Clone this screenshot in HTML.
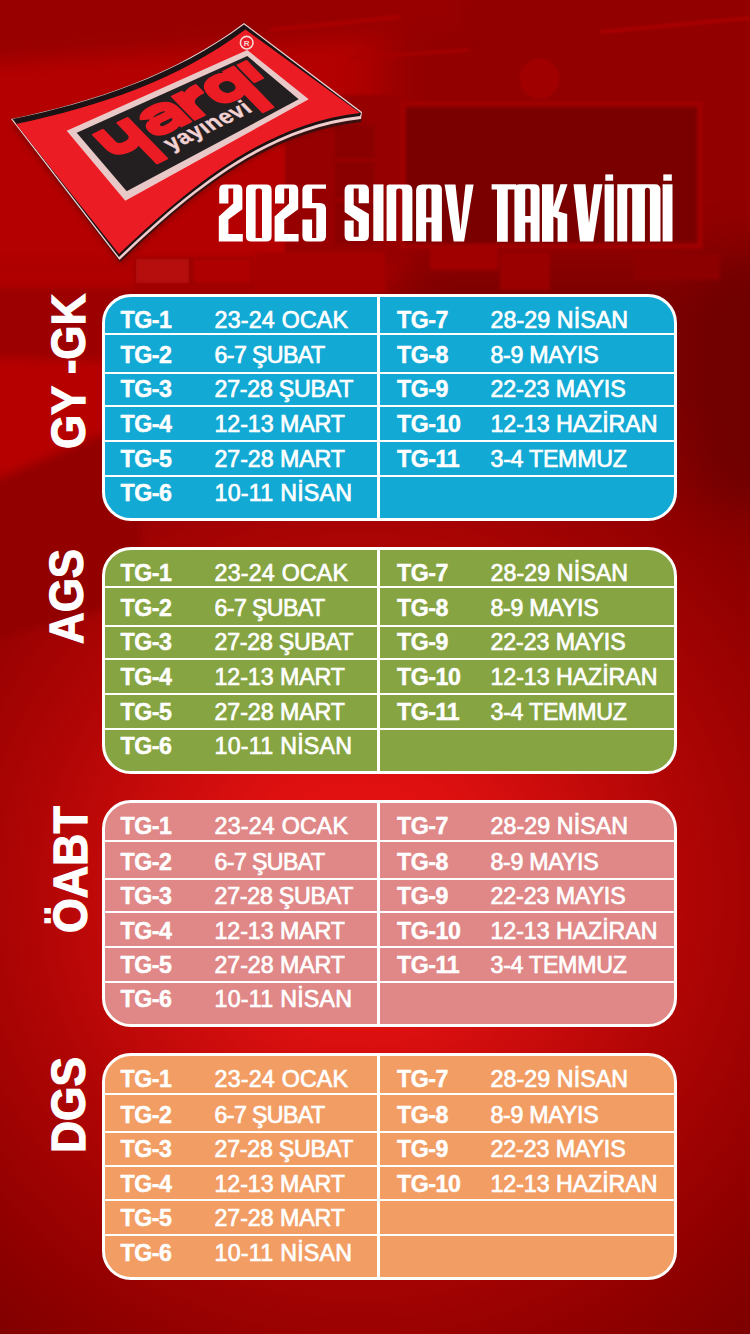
<!DOCTYPE html>
<html><head><meta charset="utf-8"><style>
html,body{margin:0;padding:0}
body{width:750px;height:1334px;overflow:hidden;position:relative;background:#a00000;font-family:"Liberation Sans",sans-serif;color:#fff}
svg.abs{position:absolute;left:0;top:0}
.tb{position:absolute;left:102px;width:575px;height:227px;box-sizing:border-box;border:3px solid #fff;border-radius:29px;overflow:hidden}
.hs{position:absolute;left:0;right:0;height:2px;background:#fff}
.vs{position:absolute;left:272px;top:0;bottom:0;width:3px;background:#fff}
.tg,.dt{position:absolute;line-height:0;white-space:nowrap;font-size:23.2px}
.tg{font-weight:bold;letter-spacing:-0.45px;-webkit-text-stroke:0.45px #fff}
.dt{font-weight:normal;letter-spacing:0.3px;-webkit-text-stroke:0.7px #fff}
.tg.l{left:15.5px}.dt.l{left:109.5px}
.tg.r{left:292px}.dt.r{left:385.5px}
.lb{position:absolute;width:0;height:0}
.lb span{position:absolute;left:0;top:0;line-height:0;white-space:nowrap;font-size:49px;font-weight:bold;transform-origin:0 0;transform:rotate(-90deg) scaleX(0.895);-webkit-text-stroke:1.2px #fff}

</style></head><body>
<svg class="abs" width="750" height="1334" viewBox="0 0 750 1334">
<defs>
<radialGradient id="rg1" cx="360" cy="895" r="600" gradientUnits="userSpaceOnUse">
<stop offset="0" stop-color="#ee1414"/>
<stop offset="0.22" stop-color="#de1010"/>
<stop offset="0.55" stop-color="#b00505"/>
<stop offset="0.8" stop-color="#920000"/>
<stop offset="1" stop-color="#7a0000"/>
</radialGradient>
<linearGradient id="rgrad" x1="0" y1="0" x2="1" y2="0">
<stop offset="0" stop-color="#700000" stop-opacity="0"/>
<stop offset="1" stop-color="#600000" stop-opacity="0.6"/>
</linearGradient>
<filter id="b3" filterUnits="userSpaceOnUse" x="-100" y="-100" width="950" height="1534"><feGaussianBlur stdDeviation="1.5"/></filter>
<filter id="b6" filterUnits="userSpaceOnUse" x="-100" y="-100" width="950" height="1534"><feGaussianBlur stdDeviation="5"/></filter>
<filter id="b10" filterUnits="userSpaceOnUse" x="-100" y="-100" width="950" height="1534"><feGaussianBlur stdDeviation="10"/></filter>
<filter id="b25" filterUnits="userSpaceOnUse" x="-100" y="-100" width="950" height="1534"><feGaussianBlur stdDeviation="25"/></filter>
</defs>
<rect width="750" height="1334" fill="url(#rg1)"/>
<g filter="url(#b25)">
<rect x="-60" y="-60" width="460" height="360" fill="#b40202"/>
<rect x="380" y="-60" width="440" height="330" fill="#920000"/>
<rect x="700" y="250" width="120" height="250" fill="#700000"/>
<rect x="-60" y="400" width="120" height="150" fill="#900000"/>
</g>
<g filter="url(#b10)">
<polygon points="-60,-60 460,-60 460,30 0,62 -60,62" fill="#980000"/>
</g>
<g filter="url(#b3)">
<line x1="270" y1="30" x2="400" y2="17" stroke="#b00404" stroke-width="3"/>
<rect x="285" y="95" width="115" height="170" fill="#960000"/>
<rect x="335" y="125" width="40" height="120" fill="#8a0000"/>
<line x1="335" y1="160" x2="375" y2="160" stroke="#a00404" stroke-width="2"/>
<line x1="335" y1="200" x2="375" y2="200" stroke="#a00404" stroke-width="2"/>
<rect x="403" y="104" width="297" height="142" fill="#7a0000" stroke="#a00404" stroke-width="5"/>
<circle cx="541" cy="80" r="20" fill="#880000" opacity="0.6"/><circle cx="539.5" cy="79" r="18.5" fill="#a00303" stroke="#a80606" stroke-width="2"/>

<line x1="600" y1="32" x2="750" y2="18" stroke="#b00606" stroke-width="3"/>
<line x1="350" y1="58" x2="470" y2="50" stroke="#a80404" stroke-width="3"/>
<rect x="-10" y="270" width="145" height="20" fill="#b00606"/>
<rect x="135" y="258" width="55" height="26" fill="#b60808" stroke="#980202" stroke-width="2"/>
<rect x="192" y="258" width="60" height="26" fill="#ae0606" stroke="#980202" stroke-width="2"/>
<rect x="255" y="252" width="130" height="40" fill="#a40505"/>
<rect x="430" y="246" width="68" height="24" fill="#a00606"/>
<rect x="500" y="252" width="50" height="38" fill="#9a0404"/>
<rect x="634" y="254" width="86" height="26" fill="#8c0303"/>

</g>
<g filter="url(#b6)"><polygon points="-10,288 140,288 140,362 -10,358" fill="#9c0202"/>
<polygon points="-10,358 140,362 140,418 -10,482" fill="#b60505"/><polygon points="-10,482 140,418 140,600 -10,640" fill="#920000"/></g>
</svg>

<svg class="abs" width="750" height="1334" viewBox="0 0 750 1334">
<defs>
<filter id="lsh" x="-20%" y="-20%" width="140%" height="140%"><feGaussianBlur stdDeviation="3"/></filter>
</defs>
<path d="M12,124 C95,107 176,80 246,28 L364,120 C266,131 190,196 121,264 Z" fill="#4a0000" opacity="0.5" filter="url(#lsh)"/>
<path d="M11,119 C94,101.8 175.5,74.6 244,23 L362,113 L361,122 C262.7,133.1 186.9,198.4 120,262 Z" fill="#3a1010"/>
<path d="M11,119 C94,101.8 175.5,74.6 244,23 L362,112 L361,119 C262.7,130.1 186.9,195.4 119.5,260 Z" fill="#f0cccc"/>
<path d="M12.5,119 C95,102 176,75 244,24.5 L361,113 L360,116 C262.7,127.1 186.9,192.4 119,257 Z" fill="#1c1214"/>
<path d="M16,124 C98,107 179,79.5 245.5,29.5 L360,113 C262.7,124.1 186.9,189.4 119,254 Z" fill="#ec1c24"/>
<polygon points="66.7,130.7 247.3,50 308.7,99.3 125.3,200.7" fill="#e9c9c8"/>
<polygon points="76.7,132.7 247.3,56 298.7,99.3 126.7,191.3" fill="#231f20"/>
<circle cx="246.7" cy="42.7" r="6.3" fill="none" stroke="#f4d8d8" stroke-width="1.6"/>
<text x="246.7" y="45.6" font-family="Liberation Sans" font-size="8" font-weight="bold" fill="#f4d8d8" text-anchor="middle">R</text>
<g transform="matrix(0.9079,-0.4396,0.7277,0.7487,73.14,133.45)" fill="#ec1c24" stroke="#ec1c24" stroke-width="2.2" stroke-linejoin="round">
  <path d="M14,10 H25 V26 Q25,31 32,31 Q41,31 41,25 V10 H52 V64 H41 V38 Q37,41 31,41 Q14,41 14,28 Z"/>
  <path d="M61,17 Q65,10 79,10 Q97,10 97,23 V41 H86 V38 Q82,41 73,41 Q59,41 59,31 Q59,22 73,22 H86 V21 Q86,18 79,18 Q72,18 70,21 Z M74,28 Q70,28 70,31.5 Q70,34 74,34 Q86,34 86,30 V28 Z" fill-rule="evenodd"/>
  <path d="M101,10 H112 V14 Q116,10 127,10 V20 Q112,20 112,28 V41 H101 Z"/>
  <path d="M157.5,10 H169 V64 H157.5 V38 Q154,41 147,41 Q130,41 130,25.5 Q130,10 148,10 Q154,10 157.5,13 Z M149,18 Q141,18 141,25.5 Q141,33 149,33 Q157.5,33 157.5,25.5 Q157.5,18 149,18 Z" fill-rule="evenodd"/>
  <rect x="173" y="10.5" width="9.5" height="22.5"/>
</g>
<g transform="matrix(0.9079,-0.4396,0.7277,0.7487,73.14,133.45)">
  <text x="61" y="59" font-family="Liberation Sans" font-size="22" font-weight="bold" fill="#f2d2d2" stroke="#f2d2d2" stroke-width="0.4" letter-spacing="0.5">yayınevi</text>
</g>
</svg>

<svg class="abs" width="750" height="1334" viewBox="0 0 750 1334">
<g fill="#fff" fill-rule="evenodd">
<!-- 2 -->
<path d="M219.2,203.6 V190 Q219.2,184.6 224.6,184.6 H237 Q242.4,184.6 242.4,190 V209.2 L228.4,219.6 V234 H242.8 V241.6 H218.8 V216.4 L233.2,203.6 V188.4 H228.4 V203.6 Z"/>
<!-- 0 -->
<path d="M246,190 Q246,184.6 251.4,184.6 H266.2 Q271.6,184.6 271.6,190 V236.2 Q271.6,241.6 266.2,241.6 H251.4 Q246,241.6 246,236.2 Z M255.6,238 H262 V191 Q262,188.4 259.6,188.4 H258 Q255.6,188.4 255.6,191 Z"/>
<!-- 2 -->
<path d="M275,203.6 V190 Q275,184.6 280.4,184.6 H292.8 Q298.2,184.6 298.2,190 V209.2 L284.2,219.6 V234 H298.6 V241.6 H274.6 V216.4 L289,203.6 V188.4 H284.2 V203.6 Z"/>
<!-- 5 -->
<path d="M302.4,190 Q302.4,184.4 308,184.4 H326 V188.8 H312.1 V202.9 H320 Q326,202.9 326,208.9 V236 Q326,241.6 320.4,241.6 H308 Q302.4,241.6 302.4,236 V219.5 H312.1 V238 H316.3 V208.3 H302.4 Z"/>
<!-- S -->
<path d="M344.6,190 Q344.6,184.4 350.2,184.4 H363.3 Q368.9,184.4 368.9,190 V203.3 H358.7 V188.6 H353.7 V205 L368.9,214 V235.4 Q368.9,241 363.3,241 H350.2 Q344.6,241 344.6,235.4 V220.5 H353.7 V236.7 H358.7 V222 L344.6,212 Z"/>
<!-- I -->
<rect x="373.3" y="184.4" width="10.2" height="56.6"/>
<!-- N -->
<path d="M386.6,241 V187 Q386.6,184.4 389.2,184.4 H406.6 Q412.4,184.4 412.4,190.2 V241 H402.3 V191.2 Q402.3,188.6 399.7,188.6 H398.8 Q396.2,188.6 396.2,191.2 V241 Z"/>
<!-- A -->
<path d="M416.1,241.6 V190.4 Q416.1,184.4 422.1,184.4 H437 Q441.9,184.4 441.9,189.3 V241.6 H431.5 V222.2 H426.1 V241.6 Z M426.1,217.6 H431.5 V191 Q431.5,188.2 428.8,188.2 Q426.1,188.2 426.1,191 Z"/>
<!-- V -->
<path d="M444.6,184.4 H455.5 L460.5,230.8 L465.5,184.4 H473.6 L464.1,241.6 H453.7 Z"/>
<!-- T -->
<path d="M491.6,184.2 H516.2 V189.6 H507.8 V241.8 H497 V189.6 H491.6 Z"/>
<!-- A -->
<path d="M514.4,241.8 V189.6 Q514.4,184.2 519.8,184.2 H534.2 Q539.6,184.2 539.6,189.6 V241.8 H530.6 V222.6 H525.2 V241.8 Z M525.2,216 H530.6 V190.8 Q530.6,188.4 527.9,188.4 Q525.2,188.4 525.2,190.8 Z"/>
<!-- K -->
<path d="M542,184.2 H553.4 V207 L560.5,184.2 H567.5 L558.5,211.5 L567.2,214 V241.8 H557.6 V218.5 L553.4,216.5 V241.8 H542 Z"/>
<!-- v -->
<path d="M573.5,184.3 H585.5 L589,223 L594,184.3 H602.5 L593.3,241.5 H580 Z"/>
<!-- i -->
<rect x="604.6" y="184.3" width="9.2" height="57.2"/>
<rect x="605.3" y="174.4" width="7.8" height="6.3"/>
<!-- m -->
<path d="M617.3,241.5 V184.3 H655 Q660.5,184.3 660.5,189.8 V241.5 H649.9 V190.5 Q649.9,187.8 647.4,187.8 Q644.9,187.8 644.9,190.5 V241.5 H632.2 V190.5 Q632.2,187.8 629.7,187.8 Q627.2,187.8 627.2,190.5 V241.5 Z"/>
<!-- i -->
<rect x="662.6" y="184.3" width="9.9" height="57.2"/>
<rect x="663.3" y="174.4" width="8.5" height="6.3"/>
</g>
</svg>

<div class="tb" style="top:293.5px;background:#12A9D5">
<i class="hs" style="top:36.5px"></i>
<i class="hs" style="top:75.1px"></i>
<i class="hs" style="top:108.4px"></i>
<i class="hs" style="top:143.3px"></i>
<i class="hs" style="top:178.0px"></i>
<i class="vs"></i>
<b class="tg l" style="top:23.3px">TG-1</b><span class="dt l" style="top:23.3px;letter-spacing:0.23px">23-24 OCAK</span>
<b class="tg l" style="top:58.7px">TG-2</b><span class="dt l" style="top:58.7px;letter-spacing:-0.61px">6-7 ŞUBAT</span>
<b class="tg l" style="top:92.6px">TG-3</b><span class="dt l" style="top:92.6px;letter-spacing:-0.23px">27-28 ŞUBAT</span>
<b class="tg l" style="top:127.6px">TG-4</b><span class="dt l" style="top:127.6px;letter-spacing:-0.06px">12-13 MART</span>
<b class="tg l" style="top:162.0px">TG-5</b><span class="dt l" style="top:162.0px;letter-spacing:-0.06px">27-28 MART</span>
<b class="tg l" style="top:196.4px">TG-6</b><span class="dt l" style="top:196.4px;letter-spacing:0.27px">10-11 NİSAN</span>
<b class="tg r" style="top:23.3px">TG-7</b><span class="dt r" style="top:23.3px;letter-spacing:0.1px">28-29 NİSAN</span>
<b class="tg r" style="top:58.7px">TG-8</b><span class="dt r" style="top:58.7px;letter-spacing:-0.28px">8-9 MAYIS</span>
<b class="tg r" style="top:92.6px">TG-9</b><span class="dt r" style="top:92.6px;letter-spacing:-0.1px">22-23 MAYIS</span>
<b class="tg r" style="top:127.6px">TG-10</b><span class="dt r" style="top:127.6px;letter-spacing:-0.05px">12-13 HAZİRAN</span>
<b class="tg r" style="top:162.0px">TG-11</b><span class="dt r" style="top:162.0px;letter-spacing:-0.26px">3-4 TEMMUZ</span>
</div>
<div class="lb" style="left:68px;top:449.2px"><span style="transform:rotate(-90deg) scaleX(0.895)">GY -GK</span></div><div class="tb" style="top:546.7px;background:#86A441">
<i class="hs" style="top:36.5px"></i>
<i class="hs" style="top:75.1px"></i>
<i class="hs" style="top:108.4px"></i>
<i class="hs" style="top:143.3px"></i>
<i class="hs" style="top:178.0px"></i>
<i class="vs"></i>
<b class="tg l" style="top:23.3px">TG-1</b><span class="dt l" style="top:23.3px;letter-spacing:0.23px">23-24 OCAK</span>
<b class="tg l" style="top:58.7px">TG-2</b><span class="dt l" style="top:58.7px;letter-spacing:-0.61px">6-7 ŞUBAT</span>
<b class="tg l" style="top:92.6px">TG-3</b><span class="dt l" style="top:92.6px;letter-spacing:-0.23px">27-28 ŞUBAT</span>
<b class="tg l" style="top:127.6px">TG-4</b><span class="dt l" style="top:127.6px;letter-spacing:-0.06px">12-13 MART</span>
<b class="tg l" style="top:162.0px">TG-5</b><span class="dt l" style="top:162.0px;letter-spacing:-0.06px">27-28 MART</span>
<b class="tg l" style="top:196.4px">TG-6</b><span class="dt l" style="top:196.4px;letter-spacing:0.27px">10-11 NİSAN</span>
<b class="tg r" style="top:23.3px">TG-7</b><span class="dt r" style="top:23.3px;letter-spacing:0.1px">28-29 NİSAN</span>
<b class="tg r" style="top:58.7px">TG-8</b><span class="dt r" style="top:58.7px;letter-spacing:-0.28px">8-9 MAYIS</span>
<b class="tg r" style="top:92.6px">TG-9</b><span class="dt r" style="top:92.6px;letter-spacing:-0.1px">22-23 MAYIS</span>
<b class="tg r" style="top:127.6px">TG-10</b><span class="dt r" style="top:127.6px;letter-spacing:-0.05px">12-13 HAZİRAN</span>
<b class="tg r" style="top:162.0px">TG-11</b><span class="dt r" style="top:162.0px;letter-spacing:-0.26px">3-4 TEMMUZ</span>
</div>
<div class="lb" style="left:66px;top:644px"><span style="transform:rotate(-90deg) scaleX(0.895)">AGS</span></div><div class="tb" style="top:800.0px;background:#E08787">
<i class="hs" style="top:36.5px"></i>
<i class="hs" style="top:75.1px"></i>
<i class="hs" style="top:108.4px"></i>
<i class="hs" style="top:143.3px"></i>
<i class="hs" style="top:178.0px"></i>
<i class="vs"></i>
<b class="tg l" style="top:23.3px">TG-1</b><span class="dt l" style="top:23.3px;letter-spacing:0.23px">23-24 OCAK</span>
<b class="tg l" style="top:58.7px">TG-2</b><span class="dt l" style="top:58.7px;letter-spacing:-0.61px">6-7 ŞUBAT</span>
<b class="tg l" style="top:92.6px">TG-3</b><span class="dt l" style="top:92.6px;letter-spacing:-0.23px">27-28 ŞUBAT</span>
<b class="tg l" style="top:127.6px">TG-4</b><span class="dt l" style="top:127.6px;letter-spacing:-0.06px">12-13 MART</span>
<b class="tg l" style="top:162.0px">TG-5</b><span class="dt l" style="top:162.0px;letter-spacing:-0.06px">27-28 MART</span>
<b class="tg l" style="top:196.4px">TG-6</b><span class="dt l" style="top:196.4px;letter-spacing:0.27px">10-11 NİSAN</span>
<b class="tg r" style="top:23.3px">TG-7</b><span class="dt r" style="top:23.3px;letter-spacing:0.1px">28-29 NİSAN</span>
<b class="tg r" style="top:58.7px">TG-8</b><span class="dt r" style="top:58.7px;letter-spacing:-0.28px">8-9 MAYIS</span>
<b class="tg r" style="top:92.6px">TG-9</b><span class="dt r" style="top:92.6px;letter-spacing:-0.1px">22-23 MAYIS</span>
<b class="tg r" style="top:127.6px">TG-10</b><span class="dt r" style="top:127.6px;letter-spacing:-0.05px">12-13 HAZİRAN</span>
<b class="tg r" style="top:162.0px">TG-11</b><span class="dt r" style="top:162.0px;letter-spacing:-0.26px">3-4 TEMMUZ</span>
</div>
<div class="lb" style="left:70.2px;top:932.6px"><span style="transform:rotate(-90deg) scaleX(0.913)">ÖABT</span></div><div class="tb" style="top:1053.2px;background:#F29D64">
<i class="hs" style="top:36.5px"></i>
<i class="hs" style="top:75.1px"></i>
<i class="hs" style="top:108.4px"></i>
<i class="hs" style="top:143.3px"></i>
<i class="hs" style="top:178.0px"></i>
<i class="vs"></i>
<b class="tg l" style="top:23.3px">TG-1</b><span class="dt l" style="top:23.3px;letter-spacing:0.23px">23-24 OCAK</span>
<b class="tg l" style="top:58.7px">TG-2</b><span class="dt l" style="top:58.7px;letter-spacing:-0.61px">6-7 ŞUBAT</span>
<b class="tg l" style="top:92.6px">TG-3</b><span class="dt l" style="top:92.6px;letter-spacing:-0.23px">27-28 ŞUBAT</span>
<b class="tg l" style="top:127.6px">TG-4</b><span class="dt l" style="top:127.6px;letter-spacing:-0.06px">12-13 MART</span>
<b class="tg l" style="top:162.0px">TG-5</b><span class="dt l" style="top:162.0px;letter-spacing:-0.06px">27-28 MART</span>
<b class="tg l" style="top:196.4px">TG-6</b><span class="dt l" style="top:196.4px;letter-spacing:0.27px">10-11 NİSAN</span>
<b class="tg r" style="top:23.3px">TG-7</b><span class="dt r" style="top:23.3px;letter-spacing:0.1px">28-29 NİSAN</span>
<b class="tg r" style="top:58.7px">TG-8</b><span class="dt r" style="top:58.7px;letter-spacing:-0.28px">8-9 MAYIS</span>
<b class="tg r" style="top:92.6px">TG-9</b><span class="dt r" style="top:92.6px;letter-spacing:-0.1px">22-23 MAYIS</span>
<b class="tg r" style="top:127.6px">TG-10</b><span class="dt r" style="top:127.6px;letter-spacing:-0.05px">12-13 HAZİRAN</span>
</div>
<div class="lb" style="left:67.7px;top:1152.6px"><span style="transform:rotate(-90deg) scaleX(0.905)">DGS</span></div>
</body></html>
